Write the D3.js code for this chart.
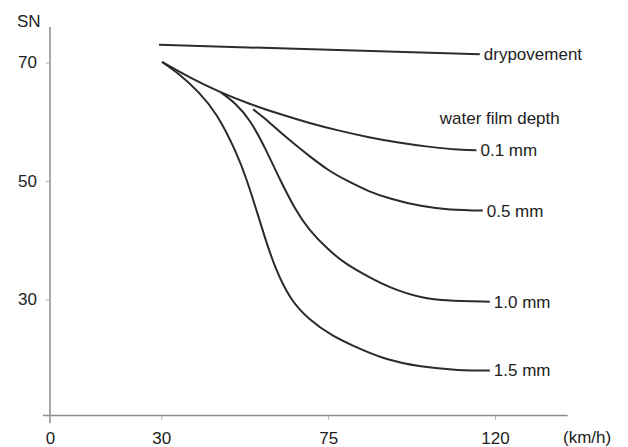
<!DOCTYPE html>
<html>
<head>
<meta charset="utf-8">
<script src="https://cdn.jsdelivr.net/npm/d3@7"></script>
<style>
  body { margin: 0; background: #fff; }
  text { font-family: "Liberation Sans", Arial, sans-serif; font-size: 17px; fill: #222; }
</style>
</head>
<body>
<svg id="chart" width="628" height="447"></svg>
<script>
// speed (km/h) ticks and SN ticks
var speedTicks = [0, 30, 75, 120];
var snTicks = [30, 50, 70];

// each curve: speeds and skid numbers
var drySpeed = [29.4, 115.9];
var drySN    = [73.0, 71.4];

var film01Speed = [30.2, 38, 46, 54, 62, 70, 78, 86, 94, 102, 110, 115];
var film01SN    = [70.1, 67.4, 65.0, 63.0, 61.3, 59.8, 58.5, 57.4, 56.5, 55.8, 55.3, 55.2];

var film05Speed = [54.8, 58, 62, 66, 70, 75, 80, 86, 92, 100, 108, 116.7];
var film05SN    = [62.1, 60.5, 58.3, 56.2, 54.2, 51.9, 50.1, 48.3, 47.0, 45.8, 45.2, 45.0];

var film10Speed = [46, 50, 54, 58, 62, 66, 70, 75, 80, 86, 92, 100, 108, 118.6];
var film10SN    = [65.0, 63.0, 60.0, 55.5, 50.3, 45.5, 41.8, 38.5, 36.0, 33.8, 32.0, 30.4, 29.8, 29.6];

var film15Speed = [30.2, 35, 40, 45, 50, 53, 55.5, 58, 61, 65, 70, 76, 82, 90, 100, 110, 118.6];
var film15SN    = [70.1, 67.9, 65.0, 61.0, 55.0, 50.2, 45.4, 40.4, 35.1, 30.2, 26.7, 24.0, 22.1, 20.1, 18.7, 18.1, 18.0];

var seriesNames = ["drypovement", "0.1 mm", "0.5 mm", "1.0 mm", "1.5 mm"];
var seriesSpeeds = [drySpeed, film01Speed, film05Speed, film10Speed, film15Speed];
var seriesSN = [drySN, film01SN, film05SN, film10SN, film15SN];

var svg = d3.select("#chart");

var x = d3.scaleLinear().domain([0, 120]).range([50, 495]);
var y = d3.scaleLinear().domain([10.4, 76]).range([415.5, 27]);

// axis lines (run a little past the plot on both ends)
svg.append("line")
    .attr("x1", x(-1.9)).attr("x2", x(139.6))
    .attr("y1", y(10.4)).attr("y2", y(10.4))
    .attr("stroke", "#8c8c8c").attr("stroke-width", 1.5);
svg.append("line")
    .attr("x1", x(0)).attr("x2", x(0))
    .attr("y1", y(76)).attr("y2", y(9.1))
    .attr("stroke", "#8c8c8c").attr("stroke-width", 1.5);

var xAxis = svg.append("g")
    .attr("transform", "translate(0," + y(10.4) + ")")
    .call(d3.axisBottom(x).tickValues(speedTicks).tickSize(4).tickSizeOuter(0).tickPadding(12));
var yAxis = svg.append("g")
    .attr("transform", "translate(" + x(0) + ",0)")
    .call(d3.axisLeft(y).tickValues(snTicks).tickSize(4).tickSizeOuter(0).tickPadding(9));

[xAxis, yAxis].forEach(function(g){
    g.select(".domain").remove();
    g.selectAll(".tick line").attr("stroke", "#aaa").attr("stroke-width", 1);
    g.selectAll(".tick text")
        .style("font-family", '"Liberation Sans", Arial, sans-serif')
        .style("font-size", "17px")
        .attr("fill", "#222");
});

svg.append("text").attr("x", 17).attr("y", 27).text("SN");
svg.append("text").attr("x", 563).attr("y", 443).text("(km/h)");

var line = d3.line()
    .x(function(d){ return x(d[0]); })
    .y(function(d){ return y(d[1]); })
    .curve(d3.curveNatural);

seriesNames.forEach(function(name, i){
    var pts = d3.zip(seriesSpeeds[i], seriesSN[i]);
    svg.append("path")
        .attr("d", line(pts))
        .attr("fill", "none")
        .attr("stroke", "#2b2b2b")
        .attr("stroke-width", 2);
    var last = pts[pts.length - 1];
    svg.append("text")
        .attr("x", x(last[0]) + 4)
        .attr("y", y(last[1]))
        .attr("dy", "0.35em")
        .text(name);
});

// heading over the water film labels
svg.append("text")
    .attr("x", x(105.1))
    .attr("y", y(59.6))
    .text("water film depth");
</script>
</body>
</html>
